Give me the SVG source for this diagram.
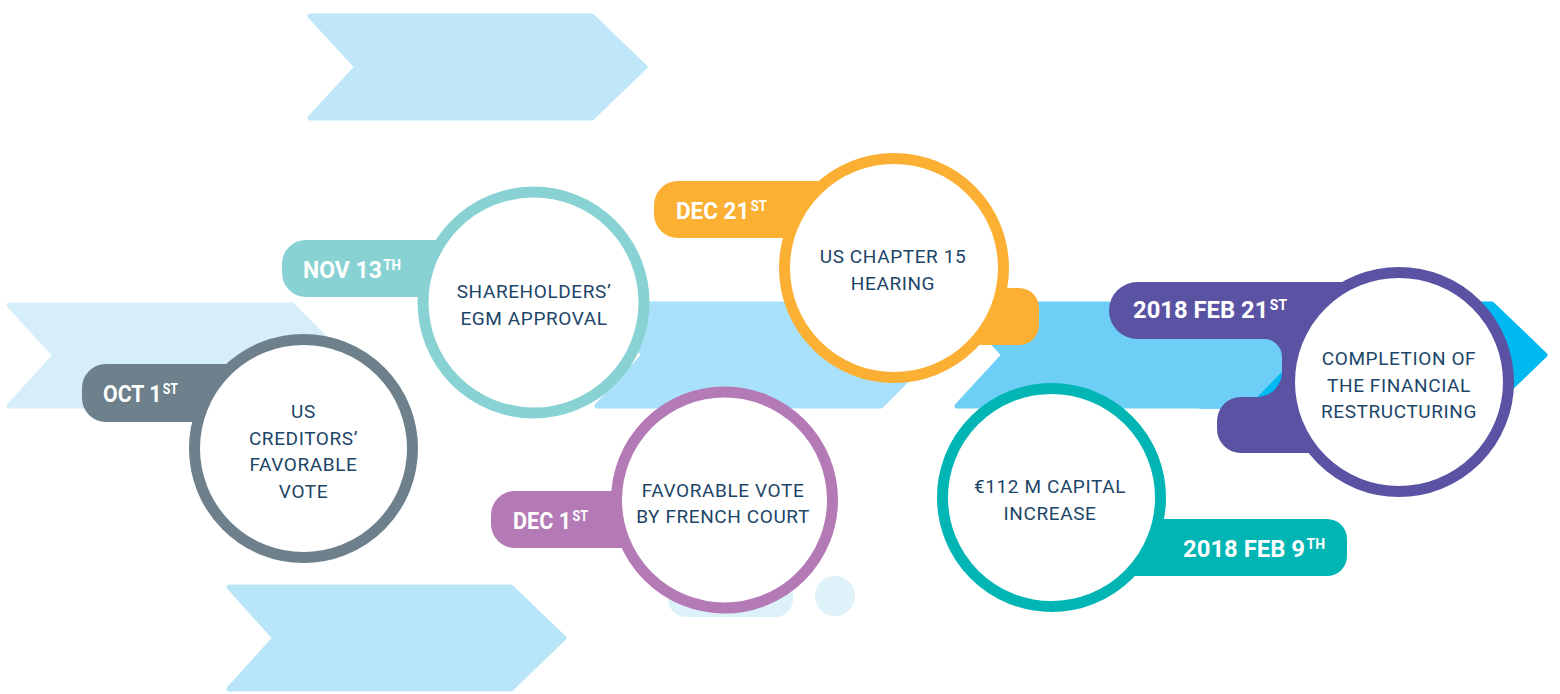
<svg xmlns="http://www.w3.org/2000/svg" width="1560" height="694" viewBox="0 0 1560 694">
<style>
.chev{stroke-width:5;stroke-linejoin:round}
.ring{fill:#fff;stroke-width:11}
.body{font-family:Roboto,"Liberation Sans",sans-serif;font-size:19px;fill:#1C4568;text-anchor:middle;letter-spacing:0.6px}
.date{font-family:Roboto,"Liberation Sans",sans-serif;font-size:24px;font-weight:700;fill:#fff}
.sup{font-size:14px}
</style>
<rect width="1560" height="694" fill="#fff"/>
<g id="background">
<polygon class="chev" fill="#D6EEFA" stroke="#D6EEFA" points="9,305 292,305 343,355.5 292,406 9,406 55,355.5"/>
<polygon class="chev" fill="#BFE7F9" stroke="#BFE7F9" points="310,16 592,16 645,67 592,118 310,118 357,67"/>
<polygon class="chev" fill="#B9E5F9" stroke="#B9E5F9" points="229,587 511,587 564,638 511,689 229,689 275,638"/>
<polygon class="chev" fill="#A9E0FA" stroke="#A9E0FA" points="597,304 881,304 932,355 881,406 597,406 644,355"/>
<polygon class="chev" fill="#00B9F1" stroke="#00B9F1" points="1200,304 1492,304 1545,355 1492,406 1200,406 1247,355"/>
<polygon class="chev" fill="#6DCFF5" stroke="#6DCFF5" points="957,304 1247,304 1295,355 1245,406 957,406 1004,355"/>
<rect x="668" y="560" width="125" height="57" rx="18" fill="#DDF1FA"/>
<circle cx="835" cy="596" r="20" fill="#DFF2FA"/>
</g>
<g id="node-oct1">
<rect x="82" y="364" width="200" height="58" rx="24" fill="#6D808C"/>
<circle class="ring" cx="303.5" cy="448.5" r="109" stroke="#6D808C"/>
<text class="date" x="103" y="402" textLength="75" lengthAdjust="spacingAndGlyphs">OCT 1<tspan class="sup" dx="1.5" dy="-8">ST</tspan></text>
<text class="body" x="303.5" y="418">US<tspan x="303.5" dy="26.5">CREDITORS’</tspan><tspan x="303.5" dy="26.5">FAVORABLE</tspan><tspan x="303.5" dy="26.5">VOTE</tspan></text>
</g>
<g id="node-nov13">
<rect x="282" y="240" width="200" height="57" rx="24" fill="#88D2D3"/>
<circle class="ring" cx="533.5" cy="302.5" r="110.5" stroke="#88D2D3" stroke-width="10"/>
<text class="date" x="303" y="278" textLength="98" lengthAdjust="spacingAndGlyphs">NOV 13<tspan class="sup" dx="1.5" dy="-8">TH</tspan></text>
<text class="body" x="534" y="298">SHAREHOLDERS’<tspan x="534" dy="27">EGM APPROVAL</tspan></text>
</g>
<g id="node-dec1">
<rect x="491" y="491" width="160" height="57" rx="24" fill="#B37AB5"/>
<circle class="ring" cx="724.5" cy="500" r="108" stroke="#B37AB5"/>
<text class="date" x="513" y="529" textLength="75" lengthAdjust="spacingAndGlyphs">DEC 1<tspan class="sup" dx="1.5" dy="-8">ST</tspan></text>
<text class="body" x="723" y="497">FAVORABLE VOTE<tspan x="723" dy="26">BY FRENCH COURT</tspan></text>
</g>
<g id="node-dec21">
<rect x="654" y="181" width="206" height="57" rx="24" fill="#FBB034"/>
<rect x="900" y="288" width="139" height="57" rx="20" fill="#FBB034"/>
<circle class="ring" cx="894" cy="268" r="109.5" stroke="#FBB034"/>
<text class="date" x="676" y="219" textLength="91" lengthAdjust="spacingAndGlyphs">DEC 21<tspan class="sup" dx="1.5" dy="-8">ST</tspan></text>
<text class="body" x="893" y="263">US CHAPTER 15<tspan x="893" dy="27">HEARING</tspan></text>
</g>
<g id="node-feb9">
<rect x="1100" y="519" width="247" height="57" rx="20" fill="#00B5B3"/>
<circle class="ring" cx="1051.5" cy="497.5" r="109" stroke="#00B5B3"/>
<text class="date" x="1183" y="557" textLength="142" lengthAdjust="spacingAndGlyphs">2018 FEB 9<tspan class="sup" dx="1.5" dy="-8">TH</tspan></text>
<text class="body" x="1050" y="493">€112 M CAPITAL<tspan x="1050" dy="27">INCREASE</tspan></text>
</g>
<g id="node-feb21">
<path fill="#5A53A3" d="M1137.5,282 L1400,282 L1400,453 L1241,453 A24,24 0 0 1 1217,429 L1217,421 A24,24 0 0 1 1241,397 L1257,397 A25,25 0 0 0 1282,372 L1282,357 A18,18 0 0 0 1264,339 L1137.5,339 A28.5,28.5 0 0 1 1137.5,282 Z"/>
<circle class="ring" cx="1399" cy="382" r="109.5" stroke="#5A53A3"/>
<text class="date" x="1133" y="318" textLength="154" lengthAdjust="spacingAndGlyphs">2018 FEB 21<tspan class="sup" dx="1.5" dy="-8">ST</tspan></text>
<text class="body" x="1399" y="365">COMPLETION OF<tspan x="1399" dy="26.5">THE FINANCIAL</tspan><tspan x="1399" dy="26.5">RESTRUCTURING</tspan></text>
</g>
</svg>
